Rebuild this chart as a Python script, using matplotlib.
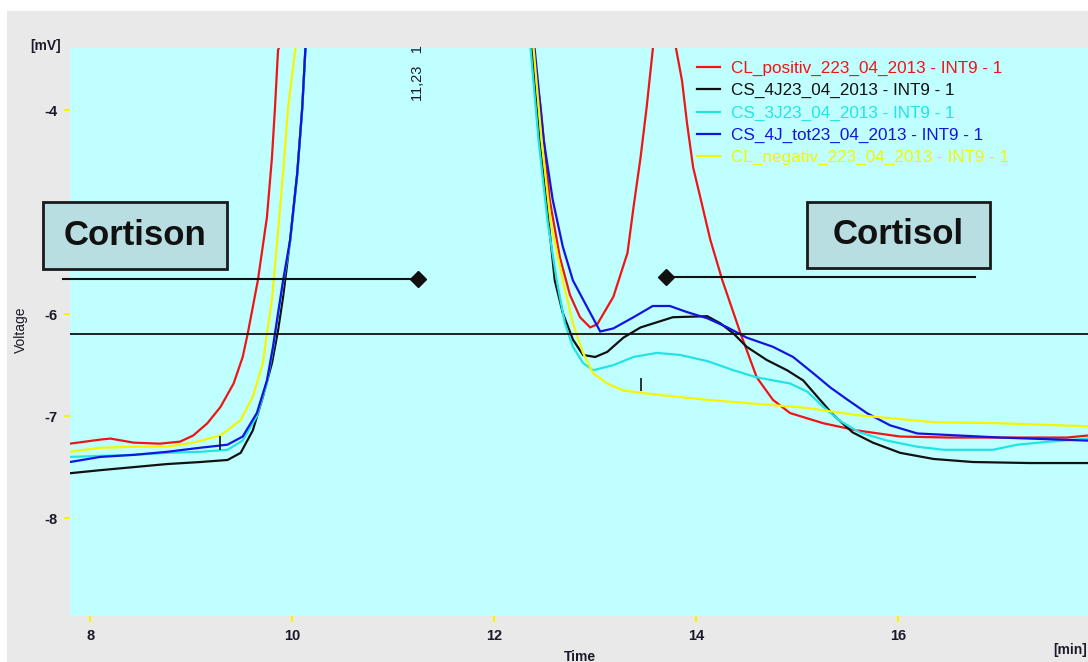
import matplotlib
matplotlib.use("Agg")
import matplotlib.pyplot as plt
from matplotlib.patches import Rectangle

plt.rcParams['font.family'] = ['Liberation Sans', 'DejaVu Sans']

W, H = 1088, 662

# ---------------- data ----------------
series_names = [
    "CL_positiv_223_04_2013 - INT9 - 1",
    "CS_4J23_04_2013 - INT9 - 1",
    "CS_3J23_04_2013 - INT9 - 1",
    "CS_4J_tot23_04_2013 - INT9 - 1",
    "CL_negativ_223_04_2013 - INT9 - 1",
]
series_colors = ["#F01414", "#111111", "#22E4E4", "#1414E0", "#F5F500"]

red_t = [7.80, 8.10, 8.20, 8.43, 8.69, 8.89, 9.02, 9.16, 9.29, 9.42, 9.51, 9.56, 9.61,
         9.66, 9.75, 9.80, 9.83, 9.86, 10.2, 12.3, 12.38, 12.46, 12.55, 12.65, 12.75,
         12.85, 12.95, 13.02, 13.18, 13.32, 13.38, 13.45, 13.51, 13.57, 13.69, 13.80,
         13.86, 13.91, 13.97, 14.04, 14.14, 14.26, 14.44, 14.60, 14.76, 14.93, 15.26,
         15.59, 16.02, 16.50, 17.01, 17.67, 17.88]
red_v = [-7.27, -7.23, -7.22, -7.26, -7.27, -7.25, -7.19, -7.07, -6.91, -6.68, -6.42, -6.19,
         -5.93, -5.67, -5.05, -4.46, -3.97, -3.41, -2.5, -2.5, -3.39, -3.97, -4.88, -5.44,
         -5.81, -6.03, -6.13, -6.10, -5.83, -5.40, -4.95, -4.46, -3.97, -3.41, -2.0, -3.39,
         -3.71, -4.13, -4.56, -4.85, -5.27, -5.67, -6.19, -6.62, -6.84, -6.97, -7.07,
         -7.14, -7.20, -7.21, -7.21, -7.21, -7.19]

black_t = [7.80, 8.10, 8.43, 8.76, 9.09, 9.36, 9.49, 9.61, 9.71, 9.80, 9.86, 9.91, 9.98,
           10.05, 10.10, 10.13, 10.2, 12.3, 12.37, 12.45, 12.54, 12.60, 12.68, 12.78, 12.88,
           13.00, 13.12, 13.28, 13.45, 13.61, 13.77, 14.11, 14.24, 14.37, 14.50, 14.70,
           14.90, 15.06, 15.20, 15.36, 15.55, 15.75, 16.02, 16.35, 16.74, 17.30, 17.88]
black_v = [-7.56, -7.53, -7.50, -7.47, -7.45, -7.43, -7.36, -7.14, -6.81, -6.48, -6.16,
           -5.83, -5.27, -4.62, -3.97, -3.41, -2.5, -2.5, -3.39, -4.30, -5.10, -5.67, -5.99,
           -6.25, -6.40, -6.42, -6.37, -6.23, -6.13, -6.08, -6.03, -6.02, -6.09, -6.19,
           -6.32, -6.45, -6.55, -6.65, -6.81, -6.99, -7.16, -7.26, -7.36, -7.42, -7.45,
           -7.46, -7.46]

cyan_t = [7.80, 8.10, 8.43, 8.76, 9.09, 9.36, 9.51, 9.65, 9.75, 9.81, 9.86, 9.91, 9.98,
          10.05, 10.10, 10.13, 10.2, 12.3, 12.36, 12.44, 12.53, 12.62, 12.70, 12.78, 12.88,
          12.98, 13.18, 13.38, 13.61, 13.84, 14.11, 14.37, 14.60, 14.93, 15.10, 15.26,
          15.43, 15.62, 15.89, 16.19, 16.45, 16.94, 17.18, 17.50, 17.88]
cyan_v = [-7.40, -7.39, -7.38, -7.36, -7.35, -7.33, -7.24, -7.00, -6.67, -6.34, -6.01,
          -5.69, -5.29, -4.64, -3.99, -3.43, -2.5, -2.5, -3.39, -4.30, -5.10, -5.67, -6.09,
          -6.32, -6.48, -6.55, -6.50, -6.42, -6.38, -6.40, -6.46, -6.55, -6.62, -6.68,
          -6.76, -6.91, -7.05, -7.16, -7.24, -7.30, -7.33, -7.33, -7.28, -7.25, -7.22]

blue_t = [7.80, 8.10, 8.43, 8.76, 9.09, 9.36, 9.51, 9.65, 9.75, 9.81, 9.86, 9.91, 9.98,
          10.05, 10.10, 10.13, 10.2, 12.3, 12.40, 12.49, 12.58, 12.68, 12.78, 12.92, 13.05,
          13.18, 13.38, 13.57, 13.74, 13.91, 14.11, 14.31, 14.50, 14.76, 14.96, 15.16,
          15.33, 15.50, 15.69, 15.92, 16.19, 17.01, 17.88]
blue_v = [-7.45, -7.40, -7.38, -7.35, -7.31, -7.28, -7.20, -6.97, -6.65, -6.32, -5.99,
          -5.67, -5.27, -4.62, -3.97, -3.41, -2.5, -2.5, -3.39, -4.29, -4.88, -5.34, -5.67,
          -5.93, -6.17, -6.14, -6.03, -5.92, -5.92, -5.98, -6.04, -6.13, -6.23, -6.32,
          -6.42, -6.58, -6.72, -6.84, -6.97, -7.09, -7.17, -7.21, -7.24]

yellow_t = [7.80, 8.10, 8.43, 8.76, 9.02, 9.29, 9.49, 9.61, 9.71, 9.75, 9.80, 9.85, 9.91,
            9.96, 10.03, 10.2, 12.3, 12.39, 12.47, 12.56, 12.68, 12.78, 12.88, 12.98, 13.12,
            13.28, 13.61, 14.11, 14.60, 15.10, 15.59, 15.92, 16.35, 17.01, 17.88]
yellow_v = [-7.35, -7.31, -7.30, -7.30, -7.26, -7.19, -7.04, -6.81, -6.48, -6.19, -5.86,
            -5.30, -4.62, -3.97, -3.41, -2.5, -2.5, -3.39, -4.30, -5.10, -5.67, -6.09, -6.38,
            -6.58, -6.68, -6.75, -6.79, -6.84, -6.88, -6.92, -6.99, -7.02, -7.06, -7.07,
            -7.10]

series_t = [red_t, black_t, cyan_t, blue_t, yellow_t]
series_v = [red_v, black_v, cyan_v, blue_v, yellow_v]

x_ticks = [8, 10, 12, 14, 16]
y_ticks = [-4, -5, -6, -7, -8]
x_lim = (7.80, 17.88)
y_lim = (-8.96, -3.39)

baseline_level = -6.19
# integration markers (time, low, high)
marker_t = [9.29, 13.45]
marker_lo = [-7.33, -6.75]
marker_hi = [-7.19, -6.63]

# peak annotation lines (x pair, y pair)
cortison_line = ([7.73, 11.25], [-5.66, -5.66])
cortisol_line = ([13.70, 16.76], [-5.64, -5.64])

# ---------------- figure ----------------
fig = plt.figure(figsize=(W / 100, H / 100), dpi=100)
fig.patch.set_facecolor("white")
fig.add_artist(Rectangle((7 / W, 0), 1 - 7 / W, 1 - 11 / H, transform=fig.transFigure,
                         fc="#E9E9E9", ec="none", zorder=0))

ax = fig.add_axes([70 / W, 1 - 616 / H, 1 - 70 / W, (616 - 48) / H])
ax.set_facecolor("#C0FFFF")
for s in ax.spines.values():
    s.set_visible(False)

for t, v, c in zip(series_t, series_v, series_colors):
    ax.plot(t, v, color=c, lw=1.6, solid_joinstyle="miter")

ax.axhline(baseline_level, color="#111111", lw=1.3)
ax.vlines(marker_t, marker_lo, marker_hi, color="#111111", lw=1.2)

for (lx, ly) in (cortison_line, cortisol_line):
    ax.plot(lx, ly, color="#111111", lw=1.5, clip_on=False, zorder=5)
ax.plot([cortison_line[0][1]], [cortison_line[1][1]], marker="D", ms=8, color="#111111",
        clip_on=False, zorder=5)
ax.plot([cortisol_line[0][0]], [cortisol_line[1][0]], marker="D", ms=8, color="#111111",
        clip_on=False, zorder=5)

ax.set_xlim(*x_lim)
ax.set_ylim(*y_lim)
ax.set_xticks(x_ticks)
ax.set_yticks(y_ticks)
ax.set_xticklabels([str(v) for v in x_ticks], fontweight="bold", fontsize=10.5, color="#1A1A2A")
ax.set_yticklabels([str(v) for v in y_ticks], fontweight="bold", fontsize=10.5, color="#1A1A2A")
ax.tick_params(axis="both", color="#F5F500", length=4, width=1.5, pad=5)

# legend
leg = ax.legend([plt.Line2D([], [], color=c, lw=1.6) for c in series_colors], series_names,
                loc="upper left", bbox_to_anchor=(697 / W, 1 - 61 / H),
                bbox_transform=fig.transFigure, frameon=False, fontsize=12.3,
                handlelength=1.35, handletextpad=0.62, labelspacing=0.42, borderaxespad=0,
                borderpad=0, labelcolor=series_colors)

# axis texts
fig.text(30 / W, 1 - 46 / H, "[mV]", fontsize=10, fontweight="bold", color="#1A1A2A",
         va="center", ha="left")
fig.text(21 / W, 1 - 330 / H, "Voltage", fontsize=10, rotation=90, color="#1A1A2A",
         va="center", ha="center")
fig.text(580 / W, 1 - 657 / H, "Time", fontsize=10, fontweight="bold", color="#1A1A2A",
         va="center", ha="center")
fig.text(1087 / W, 1 - 650 / H, "[min]", fontsize=10, fontweight="bold", color="#1A1A2A",
         va="center", ha="right")
fig.text(418 / W, 1 - 73 / H, "11,23   1", fontsize=10.5, rotation=90, color="#1A1A2A",
         va="center", ha="center")

# label boxes
for (x0, y0, x1, y1, label) in ((43, 202, 227, 269, "Cortison"), (807, 202, 990, 268, "Cortisol")):
    fig.add_artist(Rectangle((x0 / W, 1 - y1 / H), (x1 - x0) / W, (y1 - y0) / H,
                             transform=fig.transFigure, fc="#B9DEE2", ec="#1A1A1A", lw=2,
                             zorder=20))
    fig.text((x0 + x1) / 2 / W, 1 - (y0 + y1) / 2 / H, label, fontsize=25, fontweight="bold",
             color="#111111", ha="center", va="center", zorder=21)

fig.savefig("out.png", dpi=100)
